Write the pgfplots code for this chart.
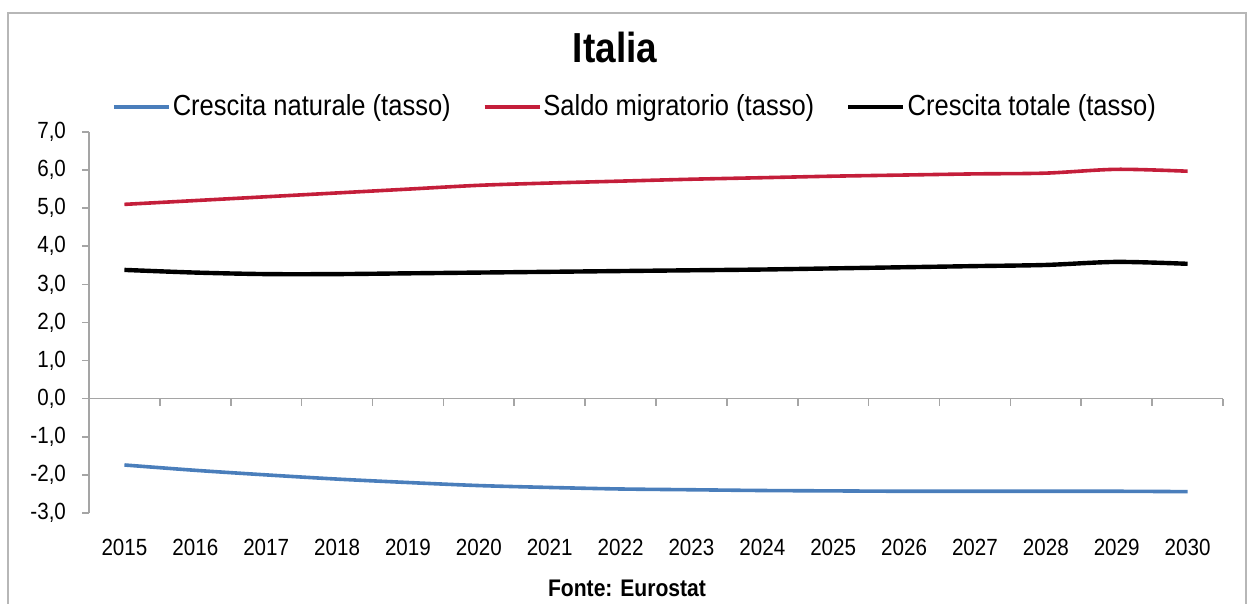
\documentclass[border=0pt]{standalone}
\usepackage{fontspec}
\setmainfont[FakeStretch=0.88]{Liberation Sans}
\usepackage{pgfplots}
\pgfplotsset{compat=1.18}
\definecolor{natblue}{HTML}{4A7EBB}
\definecolor{migred}{HTML}{C41E3A}
\definecolor{axgray}{RGB}{165,165,165}

\pgfplotstableread{
x  nat    mig   tot
0  -1.74  5.10  3.38
1  -1.88  5.20  3.31
2  -2.00  5.30  3.27
3  -2.11  5.40  3.27
4  -2.20  5.50  3.29
5  -2.28  5.60  3.31
6  -2.33  5.66  3.33
7  -2.37  5.71  3.35
8  -2.39  5.76  3.37
9  -2.41  5.80  3.39
10 -2.42  5.84  3.42
11 -2.43  5.87  3.45
12 -2.43  5.90  3.48
13 -2.43  5.92  3.51
14 -2.43  6.02  3.59
15 -2.44  5.97  3.54
}\datatab

\begin{document}
\begin{tikzpicture}
\useasboundingbox (0pt,0pt) rectangle (624pt,302pt);
% outer frame
\draw[axgray!80, line width=1pt] (4pt,-5pt) -- (4pt,295.5pt) -- (623pt,295.5pt) -- (623pt,-5pt);
\node[font=\fontsize{21}{24}\selectfont\bfseries] at (307.5pt,278.5pt) {Italia};
\node[font=\fontsize{12}{14}\selectfont\bfseries] at (313.5pt,8pt) {Fonte: Eurostat};

\begin{axis}[
    at={(44.5pt,45.5pt)}, anchor=south west,
    scale only axis, width=567pt, height=190.5pt,
    xmin=-0.5, xmax=15.5, ymin=-3, ymax=7,
    axis x line*=bottom, axis y line*=left,
    x axis line style={draw=none},
    y axis line style={draw=axgray, line width=0.8pt},
    xtick={0,...,15},
    xticklabels={2015,2016,2017,2018,2019,2020,2021,2022,2023,2024,2025,2026,2027,2028,2029,2030},
    x tick style={draw=none},
    xticklabel style={font=\fontsize{11.7}{14}\selectfont, yshift=-6pt},
    ytick={-3,...,7},
    y tick style={draw=axgray, line width=0.8pt},
    yticklabel style={font=\fontsize{11.7}{14}\selectfont, xshift=-4.5pt},
    tick align=outside, major tick length=3.5pt,
    /pgf/number format/.cd, use comma, fixed, fixed zerofill, precision=1, assume math mode=true,
    /pgfplots/.cd,
    legend columns=3,
    legend style={at={(0.4815,1.0656)}, anchor=center, draw=none, fill=none,
        font=\fontsize{14.5}{17}\selectfont,
        nodes={inner sep=1pt},
        /tikz/every even column/.append style={column sep=15pt}},
    legend image code/.code={\draw[#1] (0pt,0pt) -- (27.5pt,0pt);},
]
\addplot[natblue, line width=1.8pt, smooth] table[x=x, y=nat] {\datatab};
\addlegendentry{Crescita naturale (tasso)}
\addplot[migred, line width=1.8pt, smooth] table[x=x, y=mig] {\datatab};
\addlegendentry{Saldo migratorio (tasso)}
\addplot[black, line width=2.2pt, smooth] table[x=x, y=tot] {\datatab};
\addlegendentry{Crescita totale (tasso)}
\end{axis}

% zero line with category boundary ticks
\begin{axis}[
    at={(44.5pt,45.5pt)}, anchor=south west,
    scale only axis, width=567pt, height=190.5pt,
    xmin=-0.5, xmax=15.5, ymin=-3, ymax=7,
    axis x line=middle, axis y line=none,
    axis line style={-, draw=axgray, line width=0.8pt},
    xtick={-0.5,0.5,...,15.5}, xticklabels={},
    ytick=\empty,
    x tick style={draw=axgray, line width=0.8pt},
    tick align=outside, major tick length=3.5pt,
]
\end{axis}
\end{tikzpicture}
\end{document}
